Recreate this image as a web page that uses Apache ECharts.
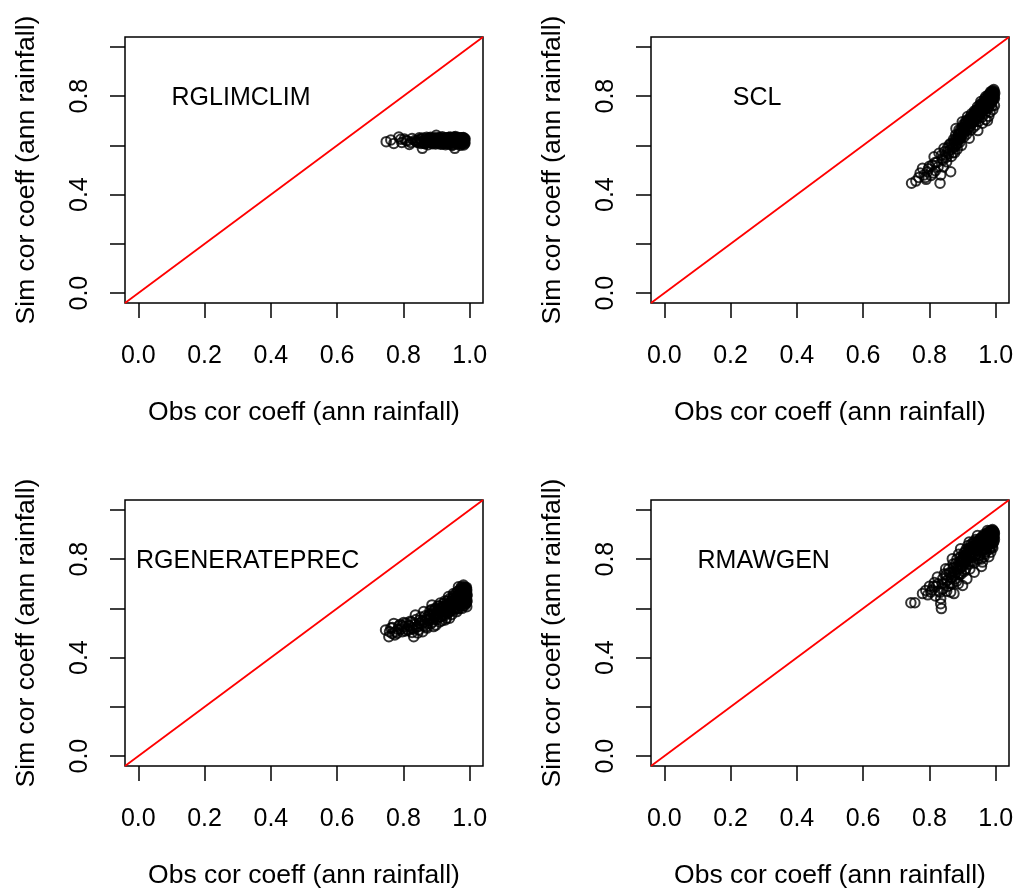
<!DOCTYPE html>
<html>
<head>
<meta charset="utf-8">
<script src="https://cdn.jsdelivr.net/npm/echarts@6/dist/echarts.min.js"></script>
<style>
  html, body { margin: 0; padding: 0; background: #fff; }
  #chart { width: 1020px; height: 891px; }
</style>
</head>
<body>
<div id="chart"></div>
<script>
// Axis ticks and labels
const xTicks = [0, 0.2, 0.4, 0.6, 0.8, 1.0];
const yTicks = [0, 0.2, 0.4, 0.6, 0.8, 1.0];
const yLabelValues = [0, 0.4, 0.8];
const axisRange = [-0.04, 1.04];

// 1:1 reference line
const diagLine = [[-0.04, -0.04], [1.04, 1.04]];

const panelNames = ['RGLIMCLIM', 'SCL', 'RGENERATEPREC', 'RMAWGEN'];
const xTitle = 'Obs cor coeff (ann rainfall)';
const yTitle = 'Sim cor coeff (ann rainfall)';

// [observed, simulated] correlation coefficient pairs, one list per generator
const rglimclimPoints = [
  [0.748,0.615],[0.762,0.622],[0.771,0.608],[0.786,0.634],[0.795,0.612],[0.803,0.626],[0.812,0.618],[0.818,0.604],[0.826,0.628],[0.834,0.620],
  [0.841,0.613],[0.848,0.631],[0.853,0.608],[0.857,0.588],[0.862,0.622],[0.866,0.616],[0.871,0.627],[0.874,0.603],[0.878,0.619],[0.882,0.633],
  [0.885,0.611],[0.889,0.624],[0.892,0.617],[0.896,0.628],[0.899,0.641],[0.902,0.609],[0.905,0.621],[0.908,0.632],[0.911,0.614],[0.914,0.625],
  [0.917,0.606],[0.920,0.619],[0.923,0.630],[0.926,0.612],[0.928,0.623],[0.931,0.617],[0.934,0.628],[0.936,0.609],[0.939,0.621],[0.941,0.634],
  [0.944,0.615],[0.946,0.626],[0.949,0.603],[0.951,0.619],[0.953,0.612],[0.955,0.588],[0.958,0.624],[0.960,0.617],[0.962,0.630],[0.964,0.611],
  [0.966,0.622],[0.968,0.616],[0.970,0.627],[0.972,0.609],[0.974,0.620],[0.976,0.631],[0.978,0.614],[0.980,0.624],[0.982,0.602],[0.984,0.618],
  [0.986,0.626],[0.975,0.612],[0.965,0.621],[0.955,0.633],[0.945,0.617],[0.935,0.625],[0.925,0.610],[0.915,0.622],[0.905,0.616],[0.895,0.628],
  [0.885,0.613],[0.875,0.621],[0.865,0.607],[0.850,0.624],[0.838,0.616],[0.822,0.612],[0.808,0.620],[0.792,0.625],[0.981,0.632],[0.971,0.600],
  [0.843,0.620],[0.847,0.611],[0.851,0.626],[0.855,0.615],[0.859,0.630],[0.863,0.608],[0.867,0.621],[0.870,0.633],[0.873,0.612],[0.877,0.624],
  [0.880,0.617],[0.883,0.629],[0.887,0.607],[0.890,0.620],[0.893,0.626],[0.897,0.613],[0.900,0.622],[0.903,0.630],[0.907,0.610],[0.910,0.619],
  [0.913,0.627],[0.916,0.614],[0.919,0.623],[0.922,0.608],[0.925,0.618],[0.927,0.631],[0.930,0.612],[0.933,0.624],[0.937,0.619],[0.940,0.606],
  [0.943,0.628],[0.947,0.616],[0.950,0.621],[0.952,0.633],[0.954,0.609],[0.957,0.625],[0.959,0.614],[0.961,0.620],[0.963,0.606],[0.965,0.628],
  [0.967,0.617],[0.969,0.623],[0.971,0.611],[0.973,0.630],[0.975,0.619],[0.977,0.608],[0.979,0.626],[0.981,0.615],[0.983,0.622],[0.985,0.612],
  [0.957,0.636],[0.947,0.600],[0.937,0.632],[0.927,0.603],[0.917,0.635],[0.907,0.628],[0.897,0.606],[0.887,0.615],[0.877,0.630],[0.867,0.610],
  [0.881,0.625],[0.886,0.618],[0.891,0.610],[0.894,0.631],[0.898,0.616],[0.901,0.627],[0.904,0.613],[0.909,0.624],[0.912,0.605],[0.915,0.630],
  [0.918,0.617],[0.921,0.626],[0.924,0.614],[0.929,0.620],[0.932,0.607],[0.935,0.632],[0.938,0.615],[0.942,0.624],[0.945,0.609],[0.948,0.629],
  [0.950,0.614],[0.953,0.622],[0.956,0.630],[0.958,0.610],[0.961,0.626],[0.963,0.617],[0.966,0.632],[0.968,0.608],[0.970,0.620],[0.972,0.626],
  [0.974,0.613],[0.976,0.624],[0.978,0.606],[0.980,0.630],[0.982,0.617],[0.984,0.628],[0.985,0.608],[0.983,0.620],[0.979,0.612],[0.969,0.629]
];

const sclPoints = [
  [0.746,0.446],[0.759,0.455],[0.768,0.470],[0.779,0.507],[0.784,0.480],[0.790,0.462],[0.794,0.493],[0.800,0.515],[0.805,0.478],[0.809,0.520],
  [0.814,0.554],[0.818,0.497],[0.822,0.530],[0.829,0.568],[0.832,0.446],[0.834,0.480],[0.838,0.545],[0.842,0.512],[0.844,0.588],[0.848,0.560],
  [0.852,0.533],[0.856,0.575],[0.860,0.602],[0.864,0.493],[0.864,0.608],[0.866,0.555],[0.870,0.588],[0.873,0.625],[0.876,0.570],[0.879,0.642],
  [0.881,0.603],[0.884,0.585],[0.887,0.630],[0.889,0.663],[0.891,0.612],[0.894,0.648],[0.897,0.600],[0.899,0.696],[0.901,0.672],[0.904,0.634],
  [0.906,0.659],[0.909,0.690],[0.912,0.645],[0.915,0.717],[0.917,0.676],[0.920,0.629],[0.922,0.700],[0.924,0.662],[0.927,0.728],[0.929,0.690],
  [0.932,0.672],[0.935,0.730],[0.937,0.705],[0.940,0.682],[0.942,0.745],[0.945,0.757],[0.947,0.720],[0.949,0.698],[0.952,0.765],[0.955,0.778],
  [0.957,0.740],[0.959,0.715],[0.962,0.772],[0.964,0.752],[0.966,0.788],[0.968,0.730],[0.970,0.798],[0.972,0.765],[0.974,0.782],[0.976,0.748],
  [0.978,0.805],[0.980,0.790],[0.982,0.770],[0.984,0.812],[0.985,0.818],[0.987,0.798],[0.989,0.780],[0.990,0.822],[0.992,0.808],[0.994,0.827],
  [0.995,0.795],[0.993,0.815],[0.996,0.762],[0.991,0.745],[0.988,0.760],[0.983,0.735],[0.979,0.718],[0.975,0.700],[0.969,0.705],[0.960,0.690],
  [0.946,0.660],[0.880,0.668],
  [0.772,0.488],[0.788,0.470],[0.797,0.505],[0.812,0.488],[0.817,0.530],[0.826,0.512],[0.836,0.560],[0.841,0.540],[0.846,0.575],[0.851,0.552],
  [0.855,0.590],[0.858,0.565],[0.862,0.580],[0.868,0.603],[0.871,0.570],[0.875,0.610],[0.878,0.595],[0.882,0.625],[0.885,0.608],[0.888,0.645],
  [0.890,0.625],[0.893,0.660],[0.895,0.630],[0.898,0.672],[0.900,0.645],[0.903,0.685],[0.905,0.650],[0.908,0.670],[0.910,0.700],[0.913,0.662],
  [0.916,0.690],[0.918,0.705],[0.921,0.675],[0.923,0.715],[0.926,0.692],[0.928,0.705],[0.931,0.720],[0.933,0.695],[0.936,0.740],[0.938,0.715],
  [0.941,0.730],[0.943,0.705],[0.946,0.745],[0.948,0.735],[0.951,0.725],[0.953,0.752],[0.956,0.760],[0.958,0.735],[0.961,0.750],[0.963,0.770],
  [0.965,0.745],[0.967,0.765],[0.969,0.780],[0.971,0.750],[0.973,0.795],[0.975,0.772],[0.977,0.790],[0.979,0.760],[0.981,0.800],[0.983,0.785],
  [0.985,0.805],[0.986,0.770],[0.988,0.812],[0.989,0.795],[0.991,0.815],[0.992,0.785],[0.994,0.805],[0.995,0.820],[0.996,0.790],[0.997,0.812],
  [0.872,0.598],[0.877,0.622],[0.883,0.615],[0.886,0.640],[0.892,0.630],[0.896,0.655],[0.902,0.660],[0.907,0.680],[0.911,0.675],[0.914,0.700],
  [0.919,0.690],[0.925,0.710],[0.930,0.700],[0.934,0.725],[0.939,0.732],[0.944,0.722],[0.950,0.745],[0.954,0.740],[0.957,0.770],[0.962,0.762],
  [0.966,0.775],[0.970,0.770],[0.974,0.765],[0.977,0.780],[0.980,0.805],[0.982,0.795],[0.984,0.780],[0.987,0.810],[0.990,0.800],[0.993,0.798],
  [0.995,0.808],[0.991,0.790],[0.986,0.788],[0.981,0.775],[0.972,0.785],[0.963,0.745],[0.953,0.735],[0.944,0.735],[0.932,0.705],[0.921,0.695]
];

const rgenerateprecPoints = [
  [0.746,0.512],[0.756,0.485],[0.762,0.520],[0.771,0.539],[0.776,0.505],[0.781,0.499],[0.786,0.528],[0.792,0.515],[0.801,0.543],[0.806,0.508],
  [0.811,0.516],[0.816,0.530],[0.821,0.548],[0.826,0.502],[0.831,0.485],[0.836,0.573],[0.840,0.525],[0.846,0.512],[0.850,0.552],[0.855,0.535],
  [0.861,0.587],[0.864,0.545],[0.868,0.525],[0.872,0.565],[0.876,0.550],[0.880,0.590],[0.883,0.538],[0.886,0.614],[0.889,0.572],[0.892,0.555],
  [0.895,0.595],[0.898,0.532],[0.901,0.580],[0.904,0.610],[0.907,0.565],[0.911,0.622],[0.913,0.590],[0.916,0.550],[0.919,0.605],[0.922,0.575],
  [0.925,0.630],[0.928,0.598],[0.930,0.560],[0.933,0.615],[0.936,0.648],[0.938,0.585],[0.941,0.625],[0.944,0.605],[0.946,0.575],[0.949,0.640],
  [0.951,0.660],[0.954,0.615],[0.956,0.595],[0.959,0.645],[0.961,0.587],[0.963,0.668],[0.966,0.688],[0.968,0.628],[0.970,0.652],[0.972,0.610],
  [0.974,0.675],[0.976,0.640],[0.978,0.660],[0.979,0.620],[0.981,0.695],[0.983,0.650],[0.984,0.678],[0.986,0.630],[0.987,0.665],[0.989,0.642],
  [0.990,0.685],[0.991,0.607],[0.992,0.655],[0.990,0.625],[0.985,0.612],[0.977,0.600],[0.967,0.598],[0.957,0.630],[0.947,0.620],[0.939,0.560],
  [0.926,0.553],[0.909,0.545],[0.891,0.526],[0.871,0.520],[0.858,0.505],[0.843,0.500],[0.826,0.520],[0.796,0.530],[0.766,0.498],[0.975,0.688],
  [0.758,0.505],[0.767,0.522],[0.774,0.492],[0.783,0.515],[0.790,0.535],[0.797,0.505],[0.803,0.525],[0.808,0.540],[0.814,0.510],[0.819,0.528],
  [0.824,0.545],[0.829,0.515],[0.834,0.535],[0.838,0.555],[0.843,0.525],[0.848,0.540],[0.852,0.565],[0.857,0.548],[0.862,0.530],[0.866,0.570],
  [0.870,0.555],[0.874,0.540],[0.878,0.575],[0.882,0.560],[0.885,0.595],[0.888,0.545],[0.891,0.580],[0.894,0.565],[0.897,0.600],[0.900,0.555],
  [0.903,0.590],[0.906,0.575],[0.909,0.610],[0.912,0.565],[0.915,0.598],[0.918,0.585],[0.921,0.620],[0.924,0.570],[0.927,0.605],[0.929,0.590],
  [0.932,0.630],[0.935,0.600],[0.937,0.615],[0.940,0.640],[0.942,0.595],[0.945,0.628],[0.948,0.612],[0.950,0.650],[0.953,0.632],[0.955,0.605],
  [0.958,0.660],[0.960,0.622],[0.962,0.645],[0.964,0.612],[0.966,0.670],[0.968,0.640],[0.970,0.625],[0.972,0.680],[0.974,0.655],[0.976,0.618],
  [0.978,0.672],[0.980,0.645],[0.982,0.630],[0.983,0.688],[0.985,0.660],[0.986,0.642],[0.988,0.680],[0.989,0.620],[0.990,0.668],[0.991,0.650],
  [0.880,0.570],[0.890,0.590],[0.899,0.575],[0.905,0.598],[0.914,0.585],[0.920,0.608],[0.926,0.590],[0.931,0.618],[0.936,0.605],[0.943,0.620],
  [0.947,0.638],[0.952,0.620],[0.957,0.645],[0.961,0.632],[0.965,0.655],[0.967,0.615],[0.969,0.662],[0.971,0.640],[0.973,0.668],[0.975,0.630],
  [0.977,0.650],[0.979,0.680],[0.981,0.660],[0.982,0.640],[0.984,0.670],[0.985,0.650],[0.987,0.685],[0.988,0.632],[0.989,0.660],[0.990,0.640],
  [0.991,0.675],[0.992,0.630],[0.986,0.620],[0.980,0.612],[0.973,0.622],[0.963,0.600],[0.954,0.600],[0.944,0.590],[0.934,0.580],[0.917,0.570]
];

const rmawgenPoints = [
  [0.744,0.623],[0.756,0.623],[0.779,0.660],[0.789,0.673],[0.795,0.655],[0.804,0.666],[0.812,0.690],[0.818,0.650],[0.824,0.727],[0.828,0.670],
  [0.834,0.619],[0.836,0.599],[0.834,0.640],[0.838,0.700],[0.842,0.680],[0.845,0.740],[0.849,0.761],[0.852,0.710],[0.856,0.690],[0.860,0.745],
  [0.864,0.666],[0.866,0.725],[0.869,0.801],[0.872,0.765],[0.874,0.660],[0.876,0.740],[0.879,0.782],[0.882,0.710],[0.885,0.760],[0.888,0.820],
  [0.890,0.735],[0.892,0.790],[0.894,0.842],[0.897,0.770],[0.900,0.693],[0.902,0.810],[0.905,0.750],[0.908,0.830],[0.910,0.790],[0.913,0.720],
  [0.916,0.855],[0.918,0.805],[0.920,0.869],[0.922,0.760],[0.925,0.825],[0.928,0.845],[0.930,0.790],[0.933,0.870],[0.935,0.747],[0.937,0.815],
  [0.940,0.880],[0.942,0.840],[0.945,0.896],[0.947,0.800],[0.949,0.860],[0.952,0.830],[0.955,0.885],[0.957,0.770],[0.960,0.788],[0.962,0.855],
  [0.964,0.900],[0.966,0.820],[0.968,0.875],[0.970,0.840],[0.972,0.905],[0.975,0.916],[0.977,0.860],[0.979,0.810],[0.981,0.890],[0.983,0.850],
  [0.985,0.828],[0.986,0.910],[0.988,0.875],[0.990,0.900],[0.991,0.845],[0.993,0.915],[0.993,0.885],[0.992,0.865],[0.987,0.895],[0.978,0.900],
  [0.968,0.890],[0.958,0.870],[0.948,0.875],[0.927,0.805],[0.906,0.780],[0.887,0.700],[0.868,0.700],[0.852,0.670],[0.815,0.705],[0.800,0.690],
  [0.808,0.675],[0.820,0.690],[0.826,0.700],[0.832,0.665],[0.840,0.720],[0.846,0.700],[0.850,0.735],[0.854,0.715],[0.858,0.760],[0.862,0.700],
  [0.865,0.745],[0.868,0.725],[0.871,0.780],[0.874,0.750],[0.877,0.720],[0.880,0.765],[0.883,0.800],[0.886,0.740],[0.889,0.785],[0.891,0.760],
  [0.894,0.810],[0.896,0.740],[0.899,0.800],[0.901,0.770],[0.904,0.825],[0.906,0.800],[0.909,0.760],[0.911,0.840],[0.914,0.800],[0.917,0.780],
  [0.919,0.845],[0.921,0.820],[0.924,0.790],[0.926,0.860],[0.929,0.830],[0.931,0.810],[0.934,0.850],[0.936,0.785],[0.939,0.860],[0.941,0.820],
  [0.944,0.870],[0.946,0.845],[0.948,0.815],[0.951,0.880],[0.953,0.855],[0.956,0.800],[0.958,0.890],[0.960,0.840],[0.963,0.870],[0.965,0.810],
  [0.967,0.895],[0.969,0.860],[0.971,0.830],[0.973,0.885],[0.976,0.850],[0.978,0.905],[0.980,0.875],[0.982,0.840],[0.984,0.900],[0.986,0.865],
  [0.988,0.915],[0.989,0.850],[0.991,0.890],[0.992,0.905],[0.994,0.870],[0.995,0.910],[0.995,0.895],[0.996,0.880],[0.990,0.920],[0.983,0.915],
  [0.880,0.745],[0.886,0.770],[0.892,0.775],[0.897,0.790],[0.903,0.795],[0.907,0.815],[0.912,0.820],[0.915,0.830],[0.920,0.835],[0.923,0.810],
  [0.927,0.850],[0.932,0.840],[0.936,0.865],[0.940,0.850],[0.943,0.835],[0.947,0.870],[0.950,0.860],[0.954,0.870],[0.957,0.850],[0.961,0.880],
  [0.964,0.860],[0.967,0.880],[0.970,0.895],[0.972,0.870],[0.975,0.890],[0.977,0.880],[0.979,0.910],[0.981,0.860],[0.983,0.895],[0.985,0.880],
  [0.987,0.905],[0.989,0.890],[0.991,0.910],[0.993,0.900],[0.994,0.890],[0.996,0.905],[0.984,0.870],[0.974,0.855],[0.963,0.835],[0.952,0.815]
];

const panelPoints = [rglimclimPoints, sclPoints, rgenerateprecPoints, rmawgenPoints];

// Where each panel's name is written, in data units
const titleAnchors = [[0.31, 0.8], [0.28, 0.8], [0.33, 0.8], [0.30, 0.8]];

const FONT = "'Liberation Sans', Arial, Helvetica, sans-serif";
const gridBoxes = [
  { left: 125, top: 37 },
  { left: 651, top: 37 },
  { left: 125, top: 500 },
  { left: 651, top: 500 }
];

const fmt = v => v.toFixed(1);

const grids = gridBoxes.map(g => ({
  left: g.left, top: g.top, width: 358, height: 266,
  show: true, borderColor: '#000', borderWidth: 1.5,
  backgroundColor: 'transparent',
  containLabel: false, outerBoundsMode: 'none'
}));

const xAxes = gridBoxes.map((g, i) => ({
  type: 'value', gridIndex: i, position: 'bottom',
  min: axisRange[0], max: axisRange[1],
  splitLine: { show: false },
  axisLine: { show: false, onZero: false },
  axisTick: { show: true, length: 15, customValues: xTicks,
              lineStyle: { color: '#000', width: 1.5 } },
  axisLabel: { show: true, customValues: xTicks, formatter: fmt,
               margin: 41, fontSize: 25, color: '#000', fontFamily: FONT },
  name: xTitle, nameLocation: 'middle', nameGap: 96, nameMoveOverlap: false,
  nameTextStyle: { fontSize: 26.5, color: '#000', fontFamily: FONT }
}));

const yAxes = gridBoxes.map((g, i) => ({
  type: 'value', gridIndex: i, position: 'left',
  min: axisRange[0], max: axisRange[1],
  splitLine: { show: false },
  axisLine: { show: false, onZero: false },
  axisTick: { show: true, length: 15, customValues: yTicks,
              lineStyle: { color: '#000', width: 1.5 } },
  axisLabel: { show: true, customValues: yLabelValues, formatter: fmt, rotate: 90,
               margin: 32, fontSize: 25, color: '#000', fontFamily: FONT },
  name: yTitle, nameLocation: 'middle', nameGap: 85, nameMoveOverlap: false,
  nameTextStyle: { fontSize: 26.5, color: '#000', fontFamily: FONT }
}));

const series = [];
panelPoints.forEach((pts, i) => {
  series.push({
    type: 'scatter', xAxisIndex: i, yAxisIndex: i,
    data: pts,
    symbol: 'circle', symbolSize: 9.5, silent: true,
    itemStyle: { color: 'rgba(0,0,0,0)', borderColor: '#000', borderWidth: 2 },
    z: 2
  });
  series.push({
    type: 'line', xAxisIndex: i, yAxisIndex: i,
    data: diagLine,
    symbol: 'none', silent: true,
    lineStyle: { color: '#ff0000', width: 1.8 },
    z: 3
  });
});

const chart = echarts.init(document.getElementById('chart'), null, { renderer: 'canvas' });
chart.setOption({
  animation: false,
  backgroundColor: '#fff',
  grid: grids,
  xAxis: xAxes,
  yAxis: yAxes,
  series: series
});

// Panel names, placed through each panel's own coordinate system
const titles = panelNames.map((name, i) => {
  const p = chart.convertToPixel({ gridIndex: i }, titleAnchors[i]);
  return {
    type: 'text', x: p[0], y: p[1] + 2,
    style: { text: name, align: 'center', verticalAlign: 'middle',
             fontSize: 25, fill: '#000', fontFamily: FONT },
    z: 10
  };
});
chart.setOption({ graphic: titles });
</script>
</body>
</html>
